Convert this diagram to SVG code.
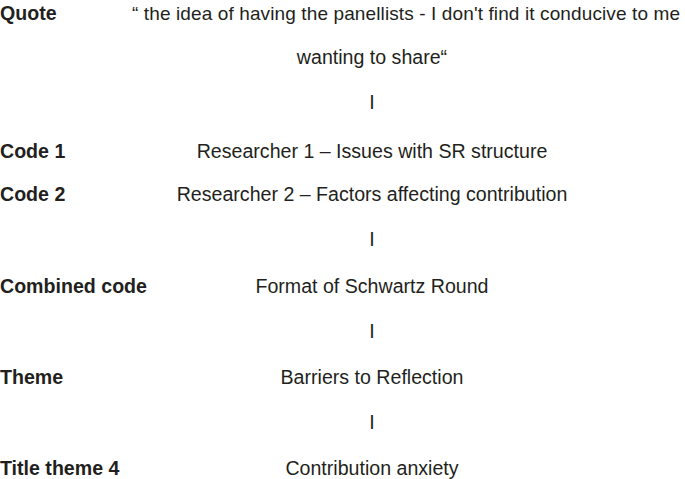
<svg xmlns="http://www.w3.org/2000/svg" width="685" height="479" viewBox="0 0 685 479">
<style>
text{font-family:"Liberation Sans",Arial,sans-serif;font-size:19.6px;fill:#231f20}
.lbl{font-weight:bold}
.c{text-anchor:middle}
.q{font-size:19px}
</style>
<rect width="685" height="479" fill="#fff"/>
<g id="quote"><text class="lbl" x="0" y="20">Quote</text><text class="q" x="132" y="20" textLength="548" lengthAdjust="spacing">“ the idea of having the panellists - I don't find it conducive to me</text><text class="c" x="372" y="64">wanting to share“</text></g>
<g id="code1"><text class="lbl" x="0" y="158">Code 1</text><text class="c" x="372" y="158">Researcher 1 – Issues with SR structure</text></g>
<g id="code2"><text class="lbl" x="0" y="201">Code 2</text><text class="c" x="372" y="201">Researcher 2 – Factors affecting contribution</text></g>
<g id="combined"><text class="lbl" x="0" y="293">Combined code</text><text class="c" x="372" y="293">Format of Schwartz Round</text></g>
<g id="theme"><text class="lbl" x="0" y="384">Theme</text><text class="c" x="372" y="384">Barriers to Reflection</text></g>
<g id="title4"><text class="lbl" x="0" y="475">Title theme 4</text><text class="c" x="372" y="475">Contribution anxiety</text></g>
<g id="connectors"><text class="c" x="372" y="109">I</text><text class="c" x="372" y="246">I</text><text class="c" x="372" y="338">I</text><text class="c" x="372" y="429">I</text></g>
</svg>
